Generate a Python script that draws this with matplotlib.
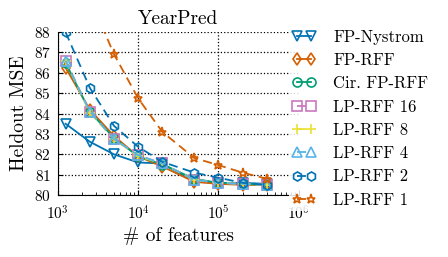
import numpy as np
import matplotlib
matplotlib.use('Agg')
import matplotlib.pyplot as plt

plt.rcParams['font.family'] = ['cmr10', 'DejaVu Serif']
plt.rcParams['mathtext.fontset'] = 'cm'
plt.rcParams['axes.formatter.use_mathtext'] = True
plt.rcParams['axes.unicode_minus'] = False

# number of features
n_feat = [1250, 2500, 5000, 10000, 20000, 50000, 100000, 200000, 400000]

# heldout MSE per method
fp_nystrom = [83.5, 82.62, 82.0, 81.6, 81.55, 80.65, 80.6, 80.6, 80.55]
fp_rff = [86.25, 84.2, 82.9, 81.9, 81.4, 80.65, 80.55, 80.5, 80.5]
cir_fp_rff = [86.5, 84.1, 82.8, 81.9, 81.5, 80.8, 80.6, 80.55, 80.5]
lp_rff_16 = [86.6, 84.1, 82.75, 81.95, 81.55, 80.75, 80.6, 80.55, 80.5]
lp_rff_8 = [86.6, 84.05, 82.75, 81.9, 81.55, 80.75, 80.6, 80.55, 80.5]
lp_rff_4 = [86.6, 84.1, 82.75, 81.95, 81.55, 80.75, 80.6, 80.55, 80.5]
lp_rff_2 = [88.0, 85.27, 83.4, 82.37, 81.63, 81.1, 80.85, 80.6, 80.5]
lp_rff_1 = [93.0, 89.7, 86.92, 84.75, 83.1, 81.82, 81.47, 81.1, 80.8]

labels = ['FP-Nystrom', 'FP-RFF', 'Cir. FP-RFF', 'LP-RFF 16',
          'LP-RFF 8', 'LP-RFF 4', 'LP-RFF 2', 'LP-RFF 1']
series = [fp_nystrom, fp_rff, cir_fp_rff, lp_rff_16,
          lp_rff_8, lp_rff_4, lp_rff_2, lp_rff_1]
colors = ['#0173B2', '#D55E00', '#029E73', '#CC78BC',
          '#ECE133', '#56B4E9', '#0173B2', '#D55E00']
markers = ['v', 'd', 'o', 's', '+', '^', 'h', '*']
styles = ['-', '-', '-', '--', '--', '--', '--', '--']

fig = plt.figure(figsize=(4.48, 2.57), dpi=100)
ax = fig.add_axes([0.129, 0.241, 0.538, 0.634])

for y, lab, c, m, ls in zip(series, labels, colors, markers, styles):
    kw = dict(color=c, marker=m, linestyle=ls, linewidth=1.3, markersize=6.5,
              markeredgewidth=1.2, fillstyle='none', label=lab)
    if ls == '--':
        kw['dashes'] = (5, 3)
    ax.plot(n_feat, y, **kw)

ax.set_xscale('log')
ax.set_xlim(1e3, 1e6)
ax.set_ylim(80, 88)
ax.set_yticks(np.arange(80, 89, 1))
ax.grid(True, which='major', linestyle=':', color='black', linewidth=0.9)
ax.tick_params(which='both', direction='in', labelsize=11)
ax.tick_params(axis='x', which='major', pad=7)
ax.tick_params(axis='y', pad=5)
for s in ['top', 'right']:
    ax.spines[s].set_visible(False)

ax.set_title('YearPred', fontsize=14)
ax.set_xlabel('# of features', fontsize=14, labelpad=3)
ax.set_ylabel('Heldout MSE', fontsize=14)

leg = fig.legend(loc='upper left', bbox_to_anchor=(0.645, 0.899), fontsize=12,
                 numpoints=2, handlelength=1.45, handletextpad=1.0,
                 frameon=True, framealpha=0.85, edgecolor='none',
                 borderpad=0.2, borderaxespad=0, labelspacing=0.48)

plt.savefig('out.png', dpi=100)
